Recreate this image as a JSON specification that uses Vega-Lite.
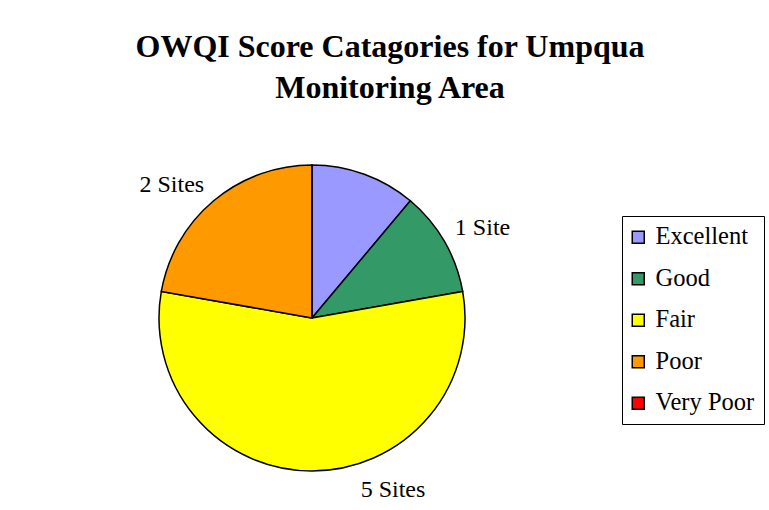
{
  "$schema": "https://vega.github.io/schema/vega-lite/v6.json",
  "width": 306,
  "height": 306,
  "autosize": {"type": "none"},
  "padding": {"left": 159, "top": 165, "right": 304, "bottom": 39},
  "background": "white",
  "title": {
    "text": ["OWQI Score Catagories for Umpqua", "Monitoring Area"],
    "font": "Liberation Serif",
    "fontSize": 32,
    "fontWeight": "bold",
    "lineHeight": 41,
    "anchor": "middle",
    "dx": 78,
    "offset": 16,
    "color": "black"
  },
  "data": {
    "values": [
      {"category": "Excellent", "sites": 1, "label": "", "idx": 1},
      {"category": "Good", "sites": 1, "label": "1 Site", "idx": 2},
      {"category": "Fair", "sites": 5, "label": "5 Sites", "idx": 3},
      {"category": "Poor", "sites": 2, "label": "2 Sites", "idx": 4},
      {"category": "Very Poor", "sites": 0, "label": "", "idx": 5}
    ]
  },
  "encoding": {
    "theta": {"field": "sites", "type": "quantitative", "stack": true},
    "order": {"field": "idx", "type": "quantitative"}
  },
  "layer": [
    {
      "mark": {"type": "arc", "stroke": "black", "strokeWidth": 1.5},
      "encoding": {
        "color": {
          "field": "category",
          "type": "nominal",
          "sort": ["Excellent", "Good", "Fair", "Poor", "Very Poor"],
          "scale": {
            "domain": ["Excellent", "Good", "Fair", "Poor", "Very Poor"],
            "range": ["#9999FF", "#339966", "#FFFF00", "#FF9900", "#FF0000"]
          },
          "legend": {
            "title": null,
            "orient": "none",
            "legendX": 463,
            "legendY": 51,
            "labelFont": "Liberation Serif",
            "labelFontSize": 24.5,
            "labelColor": "black",
            "symbolType": "square",
            "symbolSize": 144,
            "symbolStrokeColor": "black",
            "symbolStrokeWidth": 1.5,
            "symbolOpacity": 1,
            "symbolOffset": -5,
            "strokeColor": "black",
            "fillColor": "white",
            "padding": 9,
            "rowPadding": 16.5,
            "labelOffset": 5
          }
        }
      }
    },
    {
      "mark": {
        "type": "text",
        "radius": 190,
        "font": "Liberation Serif",
        "fontSize": 24,
        "color": "black",
        "dx": {"expr": "datum.category === 'Fair' ? 81 : datum.category === 'Poor' ? -18 : 6"},
        "dy": {"expr": "datum.category === 'Fair' ? -18 : datum.category === 'Poor' ? 13 : 5"}
      },
      "encoding": {
        "detail": {"field": "category", "type": "nominal"},
        "text": {"field": "label", "type": "nominal"}
      }
    }
  ]
}
